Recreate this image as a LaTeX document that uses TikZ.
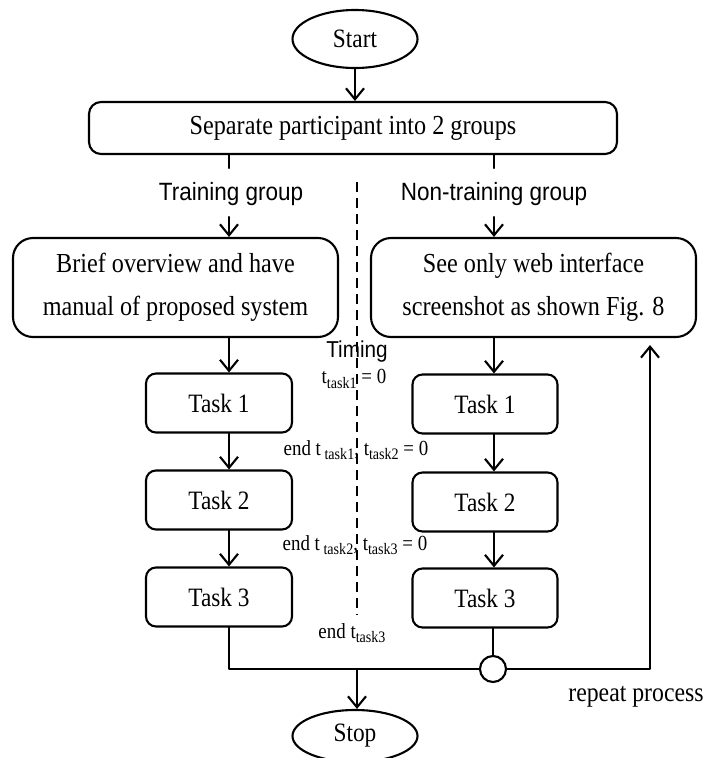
\documentclass[tikz,border=0pt]{standalone}
\usepackage{fontspec}
\setmainfont{Liberation Serif}[FakeStretch=0.88]
\newfontfamily\grpfont{Liberation Sans}[FakeStretch=0.9]
\usetikzlibrary{arrows.meta,shapes.geometric}
\newcommand{\tsub}[1]{\raisebox{-0.22em}{\fontsize{16}{18}\selectfont #1}}

\begin{document}
\begin{tikzpicture}[x=1pt,y=-1pt, line join=round, line cap=round,
	>={Straight Barb[length=11pt,width=18pt]},
	flow/.style={line width=2.1pt},
	arr/.style={flow,->},
	term/.style={ellipse,draw,line width=2.1pt,minimum width=125pt,minimum height=58pt,inner sep=0pt,font=\fontsize{26.5}{30}\selectfont},
	procbox/.style={rectangle,draw,line width=2.1pt,rounded corners=#1,inner sep=0pt,align=center,font=\fontsize{27.5}{43}\selectfont},
	procbox/.default=10pt,
	task/.style={procbox=10pt,minimum width=146pt,minimum height=59pt,font=\fontsize{26.5}{30}\selectfont},
	grp/.style={inner sep=0pt,font=\grpfont\fontsize{25}{28}\selectfont},
	lbl/.style={inner sep=0pt,font=\fontsize{21.5}{24}\selectfont}]
	\useasboundingbox (0,0) rectangle (709,758);
	\coordinate (cl) at (229,0); \coordinate (cr) at (494,0);
	\coordinate (cm) at (357,0);
	%\draw[gray!40] (0,0) grid[step=50] (709,758);
	\node[term] (start) at (355,39) {Start};
	\node[procbox=12pt,minimum width=528pt,minimum height=52pt] (sep) at (353,128) {Separate participant into 2 groups};
	\node[grp] (tg) at (231,194) {Training group};
	\node[grp] (ng) at (494,194) {Non-training group};
	\node[procbox=20pt,minimum width=325pt,minimum height=99pt] (brief) at (175.5,287.5) {Brief overview and have\\manual of proposed system};
	\node[procbox=20pt,minimum width=325pt,minimum height=99pt] (see) at (533.5,287.5) {See only web interface\\screenshot as shown Fig. 8};
	\foreach \i/\y in {1/403,2/500,3/597} \node[task] (lt\i) at (219,\y) {Task \i};
	\foreach \i/\y in {1/404,2/502,3/598} \node[task,minimum width=145pt] (rt\i) at (485,\y) {Task \i};
	\node[draw,circle,line width=2.1pt,minimum size=26pt,inner sep=0pt] (join) at (493,669) {};
	\node[term,minimum height=52pt] (stop) at (355,736) {Stop};
	% timing notes along the divider
	\node[grp,font=\grpfont\fontsize{23}{26}\selectfont] (timing) at (357,352) {Timing};
	\node[lbl] (t1) at (354,379) {t\tsub{task1} = 0};
	\node[lbl] (t2) at (356,450) {end t\,\tsub{task1}, t\tsub{task2} = 0};
	\node[lbl] (t3) at (355,545) {end t\,\tsub{task2}, t\tsub{task3} = 0};
	\node[lbl] (t4) at (352,633) {end t\tsub{task3}};
	\node[inner sep=0pt,font=\fontsize{27}{30}\selectfont] (rep) at (636,697) {repeat process};
	\coordinate (tga) at (229,217); \coordinate (nga) at (494,217);
	\coordinate (back) at (650,345);
	\coordinate (dtop) at (357,182); \coordinate (dbot) at (357,615);
	\draw[arr] (start.south) -- (start.south |- sep.north);
	\draw[flow] (sep.south -| cl) -- ++(0,13);
	\draw[flow] (sep.south -| cr) -- ++(0,13);
	\draw[arr] (tga) -- (brief.north -| tga);
	\draw[arr] (nga) -- (see.north -| nga);
	\draw[arr] (brief.south -| cl) -- (lt1.north -| cl);
	\draw[arr] (lt1.south -| cl) -- (lt2.north -| cl);
	\draw[arr] (lt2.south -| cl) -- (lt3.north -| cl);
	\draw[arr] (see.south -| cr) -- (rt1.north -| cr);
	\draw[arr] (rt1.south -| cr) -- (rt2.north -| cr);
	\draw[arr] (rt2.south -| cr) -- (rt3.north -| cr);
	\draw[flow] (lt3.south -| cl) |- (join.west);
	\draw[flow] (rt3.south -| join) -- (join.north);
	\draw[arr] (join.east) -| (back);
	\draw[arr] (cm |- join) -- (stop.north -| cm);
	\draw[line width=1.6pt,line cap=butt,dash pattern=on 10pt off 6pt] (dtop) -- (dbot);
\end{tikzpicture}
\end{document}
